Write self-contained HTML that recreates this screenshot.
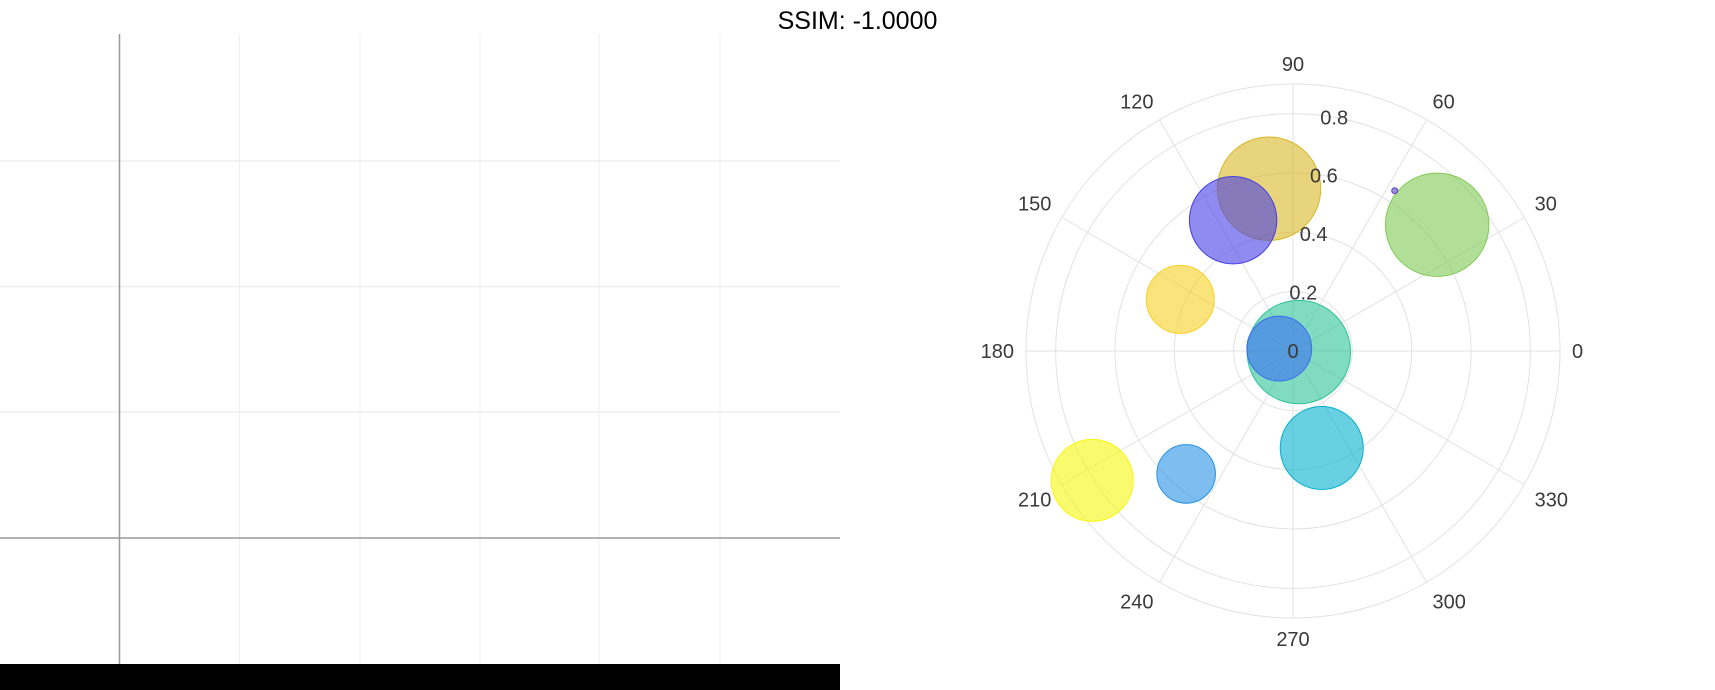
<!DOCTYPE html>
<html><head><meta charset="utf-8"><style>
html,body{margin:0;padding:0;background:#fff;width:1715px;height:690px;overflow:hidden}
svg{display:block;font-family:"Liberation Sans",sans-serif}
</style></head><body>
<svg id="root" width="1715" height="690">
<text x="857.5" y="29" text-anchor="middle" font-size="25" fill="#000">SSIM: -1.0000</text>
<g id="left"></g>
<rect x="0" y="664" width="840" height="26" fill="#000"/>
<g id="polar"></g>
</svg>
<script>
const NS='http://www.w3.org/2000/svg';
function mk(t,a,p){const e=document.createElementNS(NS,t);for(const k in a)e.setAttribute(k,a[k]);p.appendChild(e);return e;}
const left=document.getElementById('left');
const vGrid=[239.5,360,480,599,720];
const hGrid=[161,286.5,412];
vGrid.forEach(x=>{const l=mk('line',{x1:x,y1:34,x2:x,y2:664,stroke:'#efefef','stroke-width':1},left);

});
hGrid.forEach(y=>{const l=mk('line',{x1:0,y1:y,x2:840,y2:y,stroke:'#efefef','stroke-width':1.5},left);

});
const za=mk('line',{x1:119.5,y1:34,x2:119.5,y2:664,stroke:'#999','stroke-width':1.5},left);


const zb=mk('line',{x1:0,y1:538,x2:840,y2:538,stroke:'#999','stroke-width':1.5},left);



const radii=[0.553,0.485,0.646,0.64,0.418,0.02,0.047,0.341,0.549,0.805];
const thetas=[98.4,114.6,41.2,57.6,155.4,-10,170,286.5,229,212.8];
const sizes=[51.7,43.7,51.7,3,34,51.7,32.4,41.5,29.3,41];
const colors=['#d9b725','#443ee6','#7fca53','#5a3fc0','#f8d025','#2bc396','#3b6ff0','#03b1cb','#2691e6','#f7f70d'];
const radialTicks=[0,0.2,0.4,0.6,0.8];
const angularTicks=[0,30,60,90,120,150,180,210,240,270,300,330];
const CX=1293,CY=351,RMAX=0.9,RPX=267;
const rs=r=>r/RMAX*RPX;
const pt=(r,t)=>[CX+rs(r)*Math.cos(t*Math.PI/180),CY-rs(r)*Math.sin(t*Math.PI/180)];
const polar=document.getElementById('polar');
radialTicks.slice(1).concat([RMAX]).forEach(r=>{const c=mk('circle',{cx:CX,cy:CY,r:rs(r),fill:'none',stroke:'#e2e2e2','stroke-width':1},polar);

});
angularTicks.forEach(a=>{const p=pt(RMAX,a);const l=mk('line',{x1:CX,y1:CY,x2:p[0],y2:p[1],stroke:'#e2e2e2','stroke-width':1},polar);


const c=Math.cos(a*Math.PI/180),s=Math.sin(a*Math.PI/180);
const R=RPX+12;
let x=CX+R*c,y=CY-R*s;
const anchor=c>0.1?'start':(c<-0.1?'end':'middle');
const dy=s>0.1?-1:(s<-0.1?16:7);
const t=mk('text',{x:x,y:y+dy,'text-anchor':anchor,'font-size':20,fill:'#3a3a3a'},polar);
t.textContent=a;

});
radii.forEach((r,i)=>{const p=pt(r,thetas[i]);
const c=mk('circle',{cx:p[0],cy:p[1],r:sizes[i],fill:colors[i],'fill-opacity':0.6,stroke:colors[i],'stroke-width':1},polar);

});
radialTicks.forEach(r=>{const p=pt(r,80);
const t=mk('text',{x:p[0],y:p[1]+7,'text-anchor':'middle','font-size':20,fill:'#3a3a3a'},polar);
t.textContent=r;

});
</script>
</body></html>
